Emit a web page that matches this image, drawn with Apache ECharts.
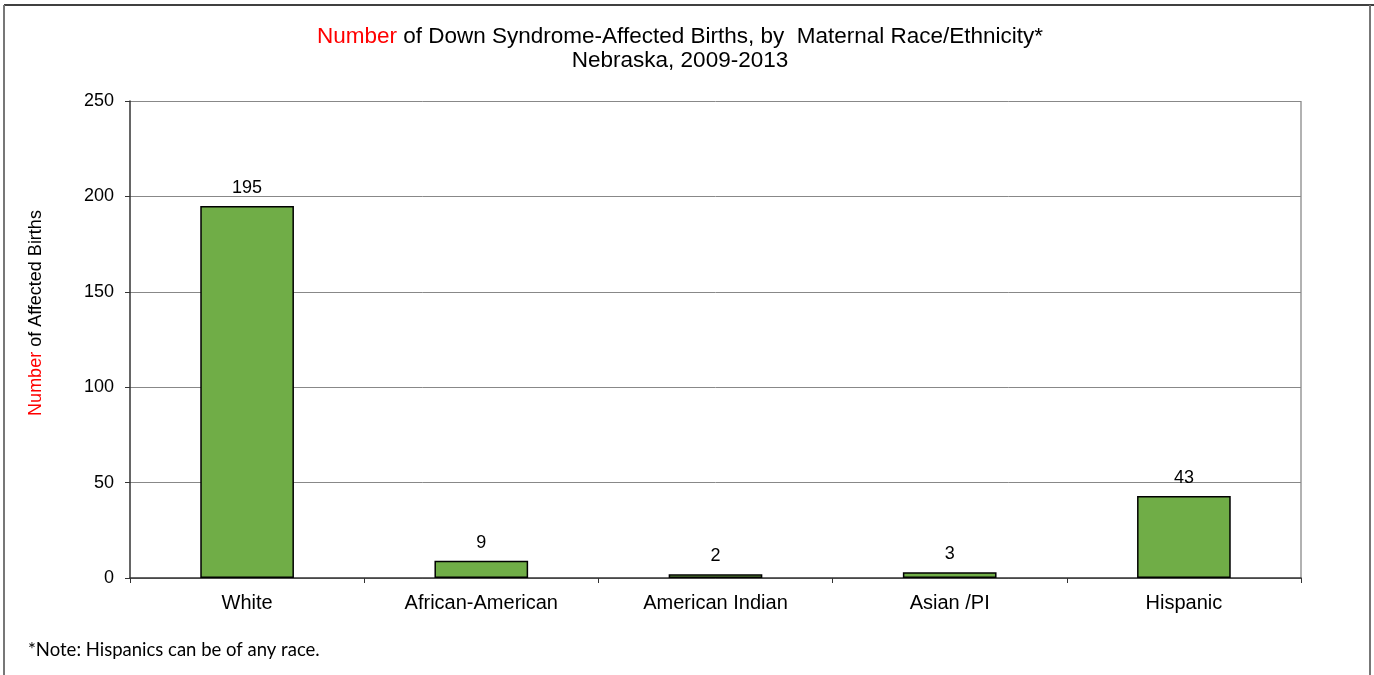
<!DOCTYPE html>
<html>
<head>
<meta charset="utf-8">
<script src="https://cdn.jsdelivr.net/npm/echarts@6/dist/echarts.min.js"></script>
<style>
html, body { margin: 0; padding: 0; background: #fff; }
#chart { width: 1374px; height: 675px; }
</style>
</head>
<body>
<div id="chart"></div>
<script>
const categories = ["White", "African-American", "American Indian", "Asian /PI", "Hispanic"];
const births = [195, 9, 2, 3, 43];
const yTicks = [0, 50, 100, 150, 200, 250];

const font = "'Liberation Sans', Arial, sans-serif";
const chart = echarts.init(document.getElementById("chart"));

chart.setOption({
  animation: false,
  backgroundColor: "#fff",
  title: {
    left: 675,
    top: 20,
    textAlign: "center",
    text: "{red|Number} of Down Syndrome-Affected Births, by  Maternal Race/Ethnicity*\nNebraska, 2009-2013",
    textStyle: {
      fontFamily: font,
      fontSize: 22.5,
      fontWeight: "normal",
      color: "#000",
      lineHeight: 24,
      rich: {
        red: { color: "#ff0000", fontFamily: font, fontSize: 22.5, lineHeight: 24 }
      }
    }
  },
  grid: { left: 130, right: 73, top: 101, bottom: 97 },
  xAxis: {
    type: "category",
    data: categories,
    axisLine: { lineStyle: { color: "#333", width: 1.5 } },
    axisTick: { show: true, length: 5, lineStyle: { color: "#333" } },
    axisLabel: { color: "#000", fontFamily: font, fontSize: 20, margin: 15 }
  },
  yAxis: {
    type: "value",
    min: yTicks[0],
    max: yTicks[yTicks.length - 1],
    interval: 50,
    axisLine: { show: true, lineStyle: { color: "#333", width: 1.5 } },
    axisTick: { show: true, length: 5, lineStyle: { color: "#333" } },
    axisLabel: { color: "#000", fontFamily: font, fontSize: 18, margin: 16 },
    splitLine: { lineStyle: { color: "#888", width: 1 } }
  },
  series: [
    {
      type: "bar",
      data: births,
      barWidth: "40%",
      itemStyle: { color: "#70ad47", borderColor: "#000", borderWidth: 1.5 },
      label: {
        show: true,
        position: "top",
        distance: 9,
        color: "#000",
        fontFamily: font,
        fontSize: 18
      }
    }
  ],
  graphic: [
    // plot right border
    { type: "line", shape: { x1: 1301, y1: 101, x2: 1301, y2: 578 }, style: { stroke: "#999", lineWidth: 1.5 } },
    // outer frame
    { type: "line", shape: { x1: 4, y1: 5, x2: 1374, y2: 5 }, style: { stroke: "#000", lineWidth: 1.5 } },
    { type: "line", shape: { x1: 4, y1: 5, x2: 4, y2: 675 }, style: { stroke: "#777", lineWidth: 2 } },
    { type: "line", shape: { x1: 1370, y1: 5, x2: 1370, y2: 675 }, style: { stroke: "#777", lineWidth: 2 } },
    {
      type: "text",
      x: 36,
      y: 313,
      rotation: Math.PI / 2,
      style: {
        text: "{red|Number} of Affected Births",
        fontFamily: font,
        fontSize: 18,
        fill: "#000",
        align: "center",
        verticalAlign: "middle",
        rich: { red: { fill: "#ff0000", fontFamily: font, fontSize: 18 } }
      }
    },
    {
      type: "text",
      x: 28,
      y: 650,
      style: {
        text: "*Note: Hispanics can be of any race.",
        fontFamily: "Lato, 'Open Sans', sans-serif",
        fontSize: 18.5,
        fill: "#000",
        verticalAlign: "middle"
      }
    }
  ]
});
</script>
</body>
</html>
